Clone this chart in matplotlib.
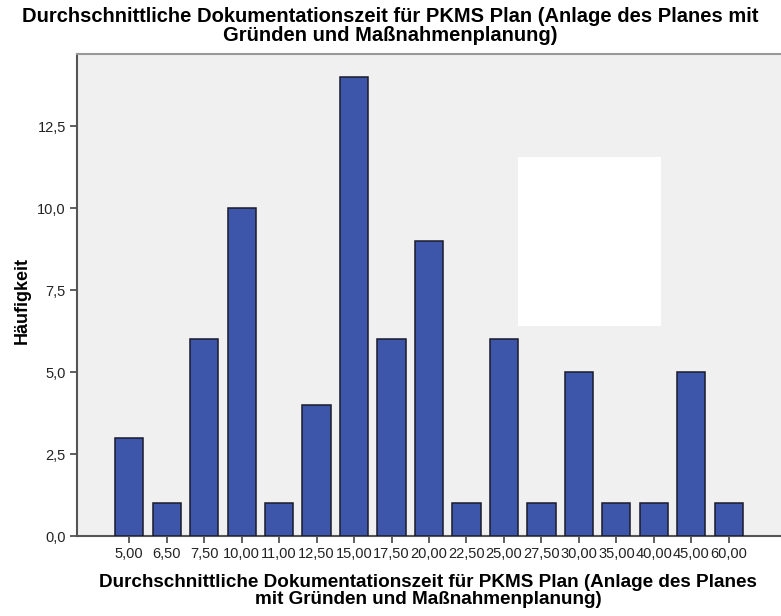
import matplotlib
matplotlib.use("Agg")
import matplotlib.pyplot as plt
from matplotlib.patches import Rectangle

categories = ["5,00", "6,50", "7,50", "10,00", "11,00", "12,50", "15,00", "17,50",
              "20,00", "22,50", "25,00", "27,50", "30,00", "35,00", "40,00", "45,00", "60,00"]
counts = [3, 1, 6, 10, 1, 4, 14, 6, 9, 1, 6, 1, 5, 1, 1, 5, 1]
y_ticks = [0, 2.5, 5.0, 7.5, 10.0, 12.5]
y_tick_labels = ["0,0", "2,5", "5,0", "7,5", "10,0", "12,5"]

title = "Durchschnittliche Dokumentationszeit für PKMS Plan (Anlage des Planes mit\nGründen und Maßnahmenplanung)"
xlabel = "Durchschnittliche Dokumentationszeit für PKMS Plan (Anlage des Planes\nmit Gründen und Maßnahmenplanung)"
ylabel = "Häufigkeit"

plt.rcParams['font.family'] = ['Liberation Sans', 'DejaVu Sans']

fig = plt.figure(figsize=(7.81, 6.16), dpi=100)
fig.patch.set_facecolor("white")
ax = fig.add_axes([77/781, 80/616, 1 - 77/781, (536-54)/616])
ax.set_facecolor("#f0f0f0")

x = list(range(len(categories)))
ax.bar(x, counts, width=0.75, color="#3e56a9", edgecolor="#1a1a2a", linewidth=1.1, zorder=3)

ax.set_xlim(-1.39, 17.39)
ax.set_ylim(0, 14.7)
ax.set_xticks(x)
ax.set_xticklabels(categories, fontsize=10.5, color="#222222")
ax.set_yticks(y_ticks)
ax.set_yticklabels(y_tick_labels, fontsize=10.5, color="#222222")
ax.tick_params(axis="both", direction="out", length=5, width=1.2, color="#444444", pad=3)

ax.spines["right"].set_visible(False)
ax.spines["left"].set_color("#555555")
ax.spines["left"].set_linewidth(1.5)
ax.spines["bottom"].set_color("#555555")
ax.spines["bottom"].set_linewidth(1.5)
ax.spines["top"].set_color("#999999")
ax.spines["top"].set_linewidth(1.5)

fig.text(0.5, 1 - 26/616, title, ha="center", va="center", fontsize=14.5,
         fontweight="bold", linespacing=0.95)
fig.text(428/781, 1 - 591/616, xlabel, ha="center", va="center", fontsize=13.6,
         fontweight="bold", linespacing=0.95)
fig.text(22/781, 1 - 300/616, ylabel, ha="center", va="center", rotation=90,
         fontsize=13, fontweight="bold")

fig.add_artist(Rectangle((518/781, 1 - 326/616), 143/781, 169/616,
                         transform=fig.transFigure, facecolor="white",
                         edgecolor="none", zorder=10))

fig.savefig("out.png", dpi=100)
